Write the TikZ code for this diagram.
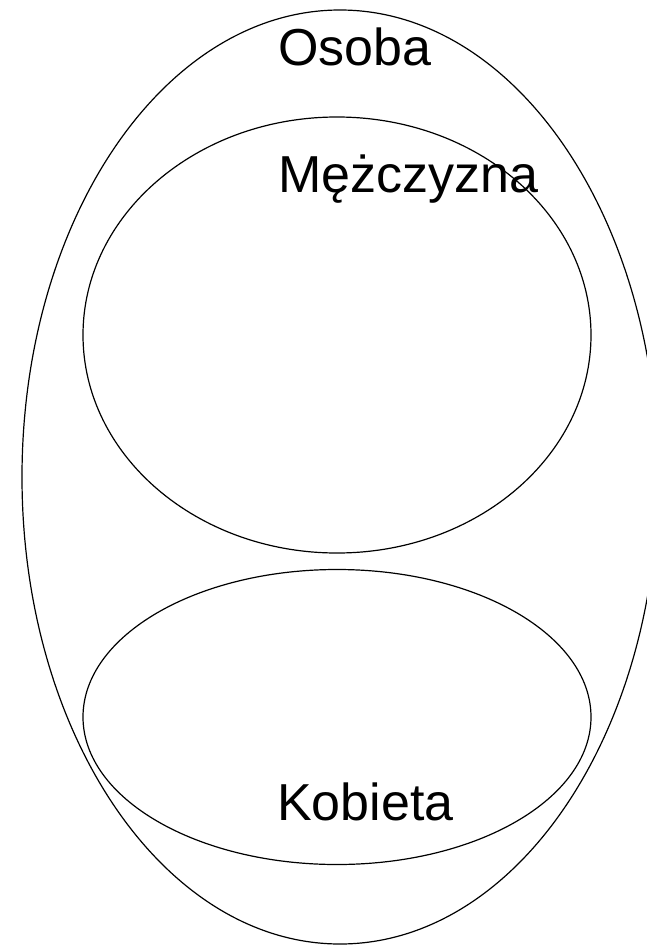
\documentclass[tikz,border=0pt]{standalone}
\usepackage{fontspec}
\setmainfont{Liberation Sans}
\usetikzlibrary{shapes.geometric}
\begin{document}
\begin{tikzpicture}[x=1pt,y=-1pt,
  set/.style={draw=black,line width=1.2pt,ellipse,inner sep=0pt},
  lbl/.style={anchor=base west,inner sep=0pt,font=\fontsize{52}{60}\selectfont}]
\useasboundingbox (0,0) rectangle (646,945);
\node[set,minimum width=636pt,minimum height=934pt] (osoba) at (340,477) {};
\node[set,minimum width=508pt,minimum height=436pt] (m) at (337,335) {};
\node[set,minimum width=508pt,minimum height=295pt] (k) at (337,717) {};
\node[lbl] (tO) at (278,65) {Osoba};
\node[lbl] (tM) at (278,192) {Mężczyzna};
\node[lbl] (tK) at (277,820) {Kobieta};
\end{tikzpicture}
\end{document}
